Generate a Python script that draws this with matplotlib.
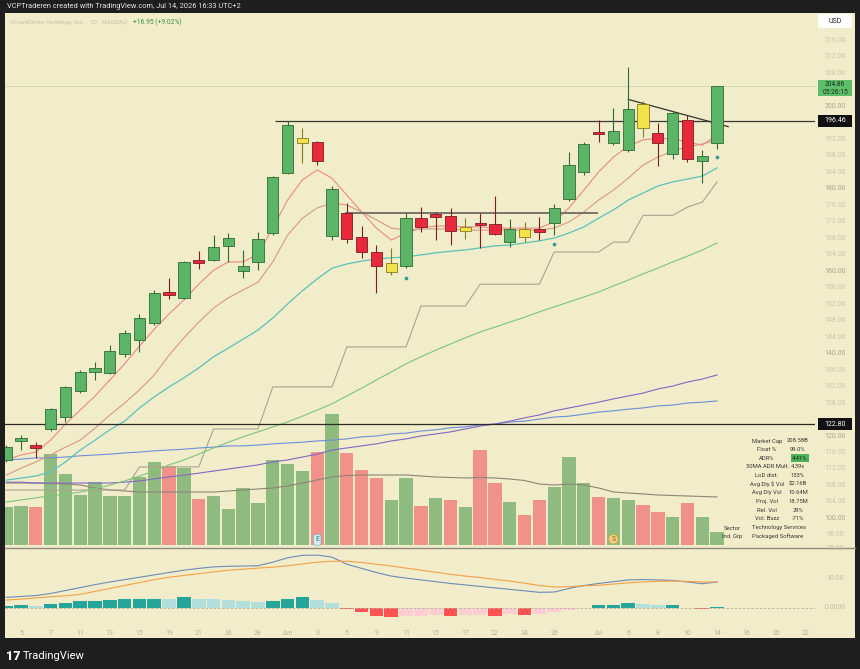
import numpy as np
import matplotlib.pyplot as plt
import matplotlib.transforms as mtransforms
from matplotlib.patches import Rectangle
from matplotlib.lines import Line2D

plt.rcParams['font.family'] = ['Roboto', 'DejaVu Sans']

############################################################################
# Data. index 0 = May 5, index -1 = May 4 (cut off)

idx = np.arange(-1, 48)

opens  = [114.2, 118.9, 117.5, 121.6, 124.7, 130.9, 135.6, 135.3, 140.0, 143.3,
          147.3, 155.0, 153.5, 162.7, 162.7, 166.1, 160.1, 162.3, 169.3, 183.8,
          192.3, 191.3, 168.5, 174.1, 168.3, 164.7, 161.9, 161.3, 172.8, 173.4,
          173.3, 170.6, 171.7, 171.4, 167.1, 168.2, 170.1, 171.6, 177.4, 184.1,
          193.8, 191.1, 189.3, 200.6, 193.5, 188.3, 196.6, 186.7, 191.0]
highs  = [117.8, 120.2, 118.5, 126.7, 132.2, 136.0, 138.0, 142.1, 145.7, 149.5,
          155.4, 158.3, 162.5, 164.9, 168.7, 169.1, 165.1, 169.4, 183.0, 196.4,
          194.6, 191.5, 180.5, 176.4, 170.9, 166.3, 165.5, 174.0, 175.6, 174.4,
          175.2, 172.9, 174.0, 178.2, 172.6, 171.8, 173.2, 176.2, 188.9, 191.3,
          196.6, 199.4, 209.5, 201.3, 195.8, 198.9, 197.8, 189.3, 204.9]
lows   = [113.8, 116.6, 114.7, 121.3, 123.5, 130.5, 133.6, 135.0, 139.1, 140.4,
          147.0, 153.1, 153.2, 160.6, 162.5, 162.3, 158.2, 160.2, 168.7, 183.5,
          186.2, 185.7, 167.5, 166.8, 163.1, 154.6, 159.0, 160.7, 169.5, 167.5,
          166.4, 167.7, 165.5, 168.7, 165.7, 167.1, 167.5, 168.7, 177.0, 183.3,
          191.3, 190.5, 188.9, 192.6, 185.5, 187.1, 186.5, 181.3, 189.7]
closes = [117.3, 119.2, 117.2, 126.5, 132.0, 135.6, 136.6, 140.7, 145.0, 148.5,
          154.6, 154.1, 162.2, 162.0, 165.9, 167.9, 161.3, 167.7, 182.7, 195.4,
          191.1, 186.7, 179.8, 167.7, 164.7, 161.2, 159.7, 172.9, 170.7, 173.2,
          169.8, 169.8, 171.2, 168.9, 170.2, 170.1, 169.5, 175.2, 185.7, 190.8,
          193.1, 194.0, 199.3, 194.6, 191.0, 198.4, 187.2, 187.9, 204.86]
candle_kind = ['g', 'g', 'r', 'g', 'g', 'g', 'g', 'g', 'g', 'g',
               'g', 'r', 'g', 'r', 'g', 'g', 'g', 'g', 'g', 'g',
               'y', 'r', 'g', 'r', 'r', 'r', 'y', 'g', 'r', 'r',
               'r', 'y', 'r', 'r', 'g', 'y', 'r', 'g', 'g', 'g',
               'r', 'g', 'g', 'y', 'r', 'g', 'r', 'g', 'g']

volume = [7.7, 7.8, 7.7, 18.2, 14.3, 10.0, 12.7, 9.8, 9.8, 13.7,
          16.7, 15.8, 15.5, 9.3, 9.8, 7.3, 11.5, 8.5, 17.0, 16.3,
          14.9, 18.6, 26.3, 18.4, 15.0, 13.4, 9.0, 13.4, 7.8, 9.4,
          9.0, 7.6, 19.0, 12.4, 8.6, 6.0, 9.0, 11.6, 17.6, 12.4,
          9.6, 9.4, 9.0, 8.0, 6.6, 5.6, 8.4, 5.6, 2.6]
vol_up = ['g', 'g', 'r', 'g', 'g', 'g', 'g', 'g', 'g', 'g',
          'g', 'r', 'g', 'r', 'g', 'g', 'g', 'g', 'g', 'g',
          'g', 'r', 'g', 'r', 'r', 'r', 'g', 'g', 'r', 'g',
          'r', 'g', 'r', 'r', 'g', 'r', 'r', 'g', 'g', 'g',
          'r', 'g', 'g', 'r', 'r', 'g', 'r', 'g', 'g']
vol_ma = [12.4, 12.4, 12.4, 12.3, 12.2, 12.0, 11.4, 11.0, 10.8, 10.6,
          10.6, 10.6, 10.6, 10.6, 10.6, 10.8, 11.0, 11.2, 11.4, 11.8,
          12.4, 13.0, 13.6, 13.9, 14.0, 14.0, 14.0, 14.0, 13.8, 13.6,
          13.5, 13.4, 13.5, 13.4, 13.2, 12.9, 12.2, 12.0, 12.2, 12.0,
          11.4, 10.6, 10.4, 10.2, 10.0, 9.9, 9.8, 9.7, 9.6]

ema_fast = [114.2, 115.4, 116.1, 119.0, 122.9, 126.3, 129.7, 133.6, 137.5, 141.8,
            145.9, 149.6, 153.0, 156.8, 160.2, 162.2, 162.2, 164.1, 170.4, 177.2,
            182.1, 184.5, 182.5, 178.4, 174.3, 170.4, 167.5, 169.2, 170.4, 170.9,
            170.9, 170.7, 170.7, 170.4, 170.4, 170.4, 170.4, 171.9, 175.3, 179.6,
            184.0, 187.6, 190.3, 191.8, 192.2, 192.0, 191.3, 190.5, 193.0]
ema_slow = [110.5, 112.2, 113.7, 115.4, 117.3, 119.0, 121.9, 125.1, 128.0, 131.2,
            134.8, 139.6, 143.8, 147.6, 151.0, 153.5, 155.4, 157.3, 162.2, 168.7,
            172.8, 175.3, 176.5, 176.0, 174.3, 172.4, 170.4, 169.9, 170.2, 170.2,
            170.2, 169.9, 169.9, 169.9, 169.9, 169.9, 169.9, 170.4, 171.9, 174.3,
            177.2, 179.6, 182.5, 185.7, 187.6, 189.1, 190.1, 190.8, 191.8]
ma_teal = [109.3, 109.8, 110.3, 111.3, 113.7, 116.6, 119.0, 121.5, 123.6, 126.8,
           129.5, 131.9, 134.1, 136.5, 139.2, 141.3, 143.5, 145.7, 148.6, 152.0,
           155.2, 158.1, 160.7, 161.7, 162.4, 162.9, 163.2, 163.4, 163.9, 164.4,
           164.8, 165.1, 165.6, 166.1, 166.3, 166.8, 167.3, 168.0, 169.2, 170.7,
           172.8, 174.8, 177.2, 178.9, 180.6, 181.6, 182.3, 183.0, 185.0]
ma_green = [104.0, 104.5, 105.0, 105.5, 105.9, 106.4, 107.2, 108.1, 109.1, 110.3,
            111.5, 113.0, 114.2, 115.6, 117.1, 118.5, 119.8, 121.0, 122.2, 123.4,
            124.8, 126.3, 127.8, 129.7, 131.6, 133.6, 135.5, 137.5, 139.2, 140.8,
            142.3, 143.8, 145.2, 146.4, 147.6, 148.8, 150.1, 151.3, 152.5, 153.7,
            154.9, 156.4, 157.8, 159.3, 160.7, 162.2, 163.6, 165.1, 166.8]
ma_purple = [108.8, 108.8, 108.6, 108.6, 108.6, 108.6, 108.6, 108.6, 108.8, 109.1,
             109.6, 110.1, 110.5, 111.0, 111.5, 112.0, 112.5, 113.0, 113.7, 114.2,
             114.9, 115.6, 116.6, 117.1, 117.6, 118.1, 118.8, 119.3, 120.0, 120.5,
             121.0, 121.7, 122.4, 122.9, 123.6, 124.4, 125.1, 126.1, 126.8, 127.5,
             128.2, 129.0, 129.7, 130.4, 131.4, 132.1, 133.1, 133.8, 134.8]
ma_blue = [114.2, 114.4, 114.7, 114.7, 114.9, 115.2, 115.4, 115.6, 115.9, 116.1,
           116.4, 116.6, 116.8, 117.1, 117.3, 117.6, 117.6, 117.8, 118.1, 118.3,
           118.5, 118.8, 119.0, 119.3, 119.8, 120.0, 120.5, 120.7, 121.2, 121.5,
           122.0, 122.2, 122.7, 122.9, 123.4, 123.6, 124.1, 124.6, 124.8, 125.3,
           125.8, 126.1, 126.5, 126.8, 127.3, 127.5, 128.0, 128.2, 128.5]
stop_line = [106.9, 106.9, 106.9, 106.9, 106.9, 106.9, 106.9, 106.9, 106.9, 112.5,
             112.5, 112.5, 112.5, 112.5, 121.7, 121.7, 121.7, 121.7, 131.9, 131.9,
             131.9, 131.9, 131.9, 141.6, 141.6, 141.6, 141.6, 141.6, 151.5, 151.5,
             151.5, 151.5, 156.8, 156.8, 156.8, 156.8, 156.8, 164.6, 164.6, 164.6,
             164.6, 167.0, 167.0, 173.5, 173.5, 173.5, 175.5, 176.7, 181.6]

dot_idx = [26, 36, 47]
dot_price = [158.3, 166.5, 187.6]

macd = [3.6, 3.9, 4.2, 4.9, 5.9, 6.9, 7.9, 8.8, 9.6, 10.4,
        11.2, 12.0, 12.8, 13.4, 13.9, 14.1, 14.2, 14.3, 15.5, 17.0,
        17.8, 17.9, 17.2, 14.8, 13.4, 12.0, 10.8, 10.1, 9.5, 8.9,
        8.3, 7.8, 7.3, 6.8, 6.3, 5.8, 5.3, 5.4, 6.6, 7.6,
        8.3, 8.9, 9.5, 9.6, 9.5, 9.3, 8.8, 8.2, 8.8]
signal = [2.7, 3.0, 3.4, 3.8, 4.1, 4.6, 5.6, 6.6, 7.6, 8.6,
          9.6, 10.4, 11.0, 11.6, 12.2, 12.8, 13.1, 13.5, 13.8, 14.3,
          14.9, 15.5, 15.8, 15.8, 15.4, 14.8, 14.2, 13.5, 12.8, 12.1,
          11.4, 10.8, 10.3, 9.7, 9.1, 8.4, 7.6, 7.1, 7.2, 7.5,
          7.7, 8.1, 8.5, 8.8, 9.0, 9.1, 9.0, 8.8, 8.8]
hist = [0.7, 1.0, 0.7, 1.2, 1.8, 2.3, 2.3, 2.7, 2.9, 2.9,
        3.2, 3.1, 3.6, 3.1, 2.9, 2.8, 2.3, 1.9, 2.4, 3.2,
        3.6, 2.7, 1.8, -0.2, -1.4, -2.6, -3.2, -2.7, -2.7, -2.4,
        -2.7, -2.4, -2.3, -2.6, -2.2, -2.5, -2.0, -1.3, -0.7, 0.1,
        0.9, 1.1, 1.8, 1.4, 0.9, 1.0, 0.1, -0.5, 0.2]
hist_kind = ['D', 'D', 'L', 'D', 'D', 'D', 'D', 'D', 'D', 'D',
             'D', 'L', 'D', 'L', 'L', 'L', 'L', 'L', 'D', 'D',
             'D', 'L', 'L', 'R', 'R', 'R', 'R', 'P', 'P', 'P',
             'R', 'P', 'P', 'R', 'P', 'R', 'P', 'P', 'P', 'D',
             'D', 'D', 'D', 'L', 'L', 'D', 'L', 'R', 'D']

tick_idx = [0, 2, 4, 6, 8, 10, 12, 14, 16, 18, 20, 22, 24, 26, 28, 30, 32, 34, 36,
            39, 41, 43, 45, 47, 49, 51, 53]
tick_lab = ['5', '7', '11', '13', '15', '19', '21', '26', '28', 'Jun', '3', '5', '9',
            '11', '15', '17', '22', '24', '26', 'Jul', '6', '8', '10', '14', '16',
            '20', '22']

level_high = 196.46
level_low = 122.80
base_level = 174.1
last_price = 204.86

info_labels = ['Market Cap', 'Float %', 'ADR%', '50MA ADR Mult.', 'LoD dist.',
               'Avg Dly $ Vol', 'Avg Dly Vol', 'Proj. Vol', 'Rel. Vol', 'Vol. Buzz']
info_values = ['208.58B', '99.0%', '4.41%', '4.39x', '153%',
               '$2.16B', '10.64M', '18.75M', '29%', '-71%']

############################################################################

CREAM = '#f1ecca'
DARK = '#1e1e1e'
W, H = 860, 669

def fx(px):
    return px / W

def fy(py):
    return 1 - py / H

fig = plt.figure(figsize=(8.6, 6.69), dpi=100, facecolor=DARK)
fig.patches.append(Rectangle((fx(5), fy(638)), 850 / W, 625 / H, transform=fig.transFigure,
                             facecolor=CREAM, edgecolor='none', zorder=-5))

XL = (-1.08, 53.61)
rect_main = [fx(5), fy(547), 810 / W, 534 / H]

# volume behind price
axv = fig.add_axes(rect_main, zorder=1)
axv.set_facecolor('none')
axv.set_xlim(XL)
axv.set_ylim(-0.4, 106.4)
axv.axis('off')
vcol = ['#8fbb80' if k == 'g' else '#f0918a' for k in vol_up]
axv.bar(idx, volume, width=0.9, color=vcol, linewidth=0)
axv.plot(idx, vol_ma, color='#8a8774', lw=0.8)

ax = fig.add_axes(rect_main, zorder=2)
ax.set_facecolor('none')
ax.set_xlim(XL)
ax.set_ylim(93.09, 222.55)
ax.axis('off')

# moving averages
ax.plot(idx, stop_line, color='#a8a48f', lw=0.8)
ax.plot(idx, ma_blue, color='#6d8fd8', lw=0.8)
ax.plot(idx, ma_purple, color='#8467c2', lw=0.8)
ax.plot(idx, ma_green, color='#7dc47a', lw=0.8)
ax.plot(idx, ma_teal, color='#5ec1b8', lw=0.9)
ax.plot(idx, ema_slow, color='#d59a86', lw=0.8)
ax.plot(idx, ema_fast, color='#ec8a80', lw=0.8)

# horizontal levels
ax.axhline(last_price, color='#cdd3b1', lw=0.6)
ax.axhline(level_low, color='#2b2b25', lw=0.9)
ax.hlines(level_high, 17.15, XL[1], color='#3a3a32', lw=0.9)
ax.hlines(base_level, 21.9, 38.96, color='#6f6c5f', lw=1.3)
ax.plot([41.0, 47.75], [201.6, 195.0], color='#34342c', lw=0.9)

# candles
face = {'g': '#5cb466', 'r': '#e8293b', 'y': '#f3e24a'}
edge = {'g': '#2f6b36', 'r': '#7c1d24', 'y': '#857a1c'}
o = np.array(opens)
c = np.array(closes)
bot = np.minimum(o, c)
hgt = np.maximum(np.abs(c - o), 0.55)
ax.vlines(idx, lows, highs, colors=[edge[k] for k in candle_kind], lw=0.8, zorder=3)
ax.bar(idx, hgt, bottom=bot, width=0.76, color=[face[k] for k in candle_kind],
       edgecolor=[edge[k] for k in candle_kind], linewidth=0.6, zorder=4)
ax.scatter(dot_idx, dot_price, s=7, color='#2d9c8e', zorder=5, linewidths=0)

# event icons
ax.text(20, 94.8, 'E', fontsize=5, color='#2b7a94', ha='center', va='center', zorder=6,
        bbox=dict(boxstyle='round,pad=0.25', fc='#d6eef2', ec='#7bbcd0', lw=0.5))
ax.text(40, 95.0, 'S', fontsize=5, color='#8a5a10', ha='center', va='center', zorder=6,
        bbox=dict(boxstyle='circle,pad=0.15', fc='#f6d389', ec='#e3a53c', lw=0.5))

# price scale
tr = mtransforms.blended_transform_factory(ax.transAxes, ax.transData)
xlab = (835 - 5) / 810
boxes = [(202.4, 206.2), (level_high - 1.45, level_high + 1.45),
         (level_low - 1.45, level_low + 1.45)]
for v in range(96, 217, 4):
    if any(lo - 1.2 < v < hi + 1.2 for lo, hi in boxes):
        continue  # hidden under a price tag
    col = '#a8a590' if v % 20 == 0 else '#c9c6ad'
    ax.text(xlab, v, f'{v:.2f}', transform=tr, fontsize=5, color=col,
            ha='center', va='center')

bx0 = (818 - 5) / 810
bw = 34 / 810
ax.add_patch(Rectangle((bx0, 202.4), bw, 3.8, transform=tr, facecolor='#5fbd6a',
                       edgecolor='none', zorder=7, clip_on=False))
ax.text(xlab, 205.15, f'{last_price:.2f}', transform=tr, fontsize=4.8, color='#14331a',
        ha='center', va='center', zorder=8)
ax.text(xlab, 203.3, '05:26:15', transform=tr, fontsize=4.8, color='#14331a',
        ha='center', va='center', zorder=8)
for lv in [level_high, level_low]:
    ax.add_patch(Rectangle((bx0, lv - 1.45), bw, 2.9, transform=tr, facecolor='#111111',
                           edgecolor='none', zorder=7, clip_on=False))
    ax.text(xlab, lv, f'{lv:.2f}', transform=tr, fontsize=5, color='white',
            ha='center', va='center', zorder=8)
ax.add_patch(Rectangle((bx0, 218.9), bw, 3.4, transform=tr, facecolor='white',
                       edgecolor='none', zorder=7, clip_on=False))
ax.text(xlab, 220.6, 'USD', transform=tr, fontsize=5, color='#222222',
        ha='center', va='center', zorder=8)

# info table
for k, (lab, val) in enumerate(zip(info_labels, info_values)):
    yy = fy(441 + k * 8.65)
    fig.text(fx(767), yy, lab, fontsize=4.2, color='#3a3a34', ha='center', va='center')
    if lab == 'ADR%':
        fig.text(fx(800), yy, val, fontsize=4.2, color='#10301a', ha='center', va='center',
                 bbox=dict(boxstyle='square,pad=0.25', fc='#4cb35a', ec='none'))
    else:
        fig.text(fx(798), yy, val, fontsize=4.2, color='#3a3a34', ha='center', va='center')
fig.text(fx(732), fy(528), 'Sector', fontsize=4.2, color='#3a3a34', ha='center', va='center')
fig.text(fx(779), fy(528), 'Technology Services', fontsize=4.2, color='#3a3a34',
         ha='center', va='center')
fig.text(fx(732), fy(536.6), 'Ind. Grp', fontsize=4.2, color='#3a3a34', ha='center', va='center')
fig.text(fx(778), fy(536.6), 'Packaged Software', fontsize=4.2, color='#3a3a34',
         ha='center', va='center')

# pane separator
fig.add_artist(Line2D([fx(5), fx(855)], [fy(547.5), fy(547.5)], transform=fig.transFigure,
                      color='#8f8c7c', lw=1.0))

# MACD pane
axm = fig.add_axes([fx(5), fy(622), 810 / W, 74 / H], zorder=2)
axm.set_facecolor('none')
axm.set_xlim(XL)
axm.set_ylim(-4.75, 20.3)
for s in axm.spines.values():
    s.set_visible(False)
axm.set_yticks([])
axm.axhline(0, color='#b6b39e', lw=0.6, ls=(0, (3, 2)))
hcol = {'D': '#26a69a', 'L': '#b2dfdb', 'R': '#ff5252', 'P': '#ffcdd2'}
axm.bar(idx, hist, width=0.92, color=[hcol[k] for k in hist_kind], linewidth=0)
axm.plot(idx, macd, color='#6f8bb5', lw=0.8)
axm.plot(idx, signal, color='#f4a145', lw=0.8)
trm = mtransforms.blended_transform_factory(axm.transAxes, axm.transData)
for v, s in [(20, '20.00'), (10, '10.00'), (0, '0.0000')]:
    axm.text(xlab, v, s, transform=trm, fontsize=5, color='#c2bfa6', ha='center', va='center')
axm.set_xticks(tick_idx, tick_lab)
axm.tick_params(axis='x', length=0, labelsize=5, labelcolor='#b8b59e', pad=6)

# header / footer
fig.text(fx(7), fy(7), 'VCPTraderen created with TradingView.com, Jul 14, 2026 16:33 UTC+2',
         fontsize=5.3, color='#e6e6e6', va='center')
fig.text(fx(10), fy(22.5), 'CrowdStrike Holdings, Inc. · 1D · NASDAQ', fontsize=4.6,
         color='#c4c0a6', va='center')
fig.text(fx(133), fy(22.5), '+16.95 (+9.02%)', fontsize=4.8, color='#3f8f47', va='center')
fig.text(fx(6), fy(656), '17', fontsize=9, fontweight='heavy', color='white', va='center')
fig.text(fx(23), fy(656), 'TradingView', fontsize=8, color='white', va='center')

plt.savefig('out.png', dpi=100, facecolor=DARK)
